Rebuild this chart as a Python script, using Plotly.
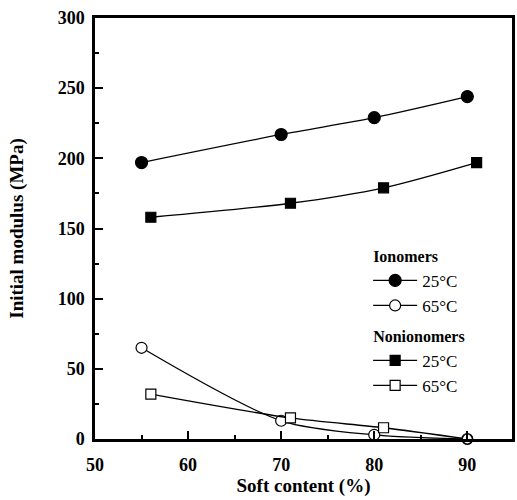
import plotly.graph_objects as go

# Data
ion25_x = [55, 70, 80, 90]
ion25_y = [197, 217, 229, 244]
ion65_x = [55, 70, 80, 90]
ion65_y = [65, 13, 3, 0]
non25_x = [56, 71, 81, 91]
non25_y = [158, 168, 179, 197]
non65_x = [56, 71, 81, 90]
non65_y = [32, 15, 8, 0]
non65_symbols = ["square", "square", "square", "circle"]

x_ticks = [50, 60, 70, 80, 90]
y_ticks = [0, 50, 100, 150, 200, 250, 300]

FONT = "Liberation Serif"

fig = go.Figure()

def add(x, y, name, group, gtitle, symbol, fill, size):
    fig.add_trace(go.Scatter(
        x=x, y=y, mode="lines+markers", name=name,
        legendgroup=group,
        legendgrouptitle=dict(text="<b>" + gtitle + "</b>", font=dict(family=FONT, size=16, color="black")),
        line=dict(color="black", width=1.3, shape="spline", smoothing=0.8),
        marker=dict(symbol=symbol, size=size, color=fill,
                    line=dict(color="black", width=1.2)),
        cliponaxis=False,
    ))

add(ion25_x, ion25_y, "25°C", "ion", "Ionomers", "circle", "black", 12)
add(ion65_x, ion65_y, "65°C", "ion", "Ionomers", "circle", "white", 11)
add(non25_x, non25_y, "25°C", "non", "Nonionomers", "square", "black", 10)
add(non65_x, non65_y, "65°C", "non", "Nonionomers", non65_symbols, "white", 10)

tickfont = dict(family=FONT, size=18, color="black", weight=700)

fig.update_layout(
    width=517, height=500,
    margin=dict(l=95, r=2, t=18, b=61),
    paper_bgcolor="white", plot_bgcolor="white",
    font=dict(family=FONT, color="black"),
    showlegend=True,
    legend=dict(x=0.655, y=0.475, xanchor="left", yanchor="top",
                bgcolor="rgba(0,0,0,0)", borderwidth=0,
                font=dict(family=FONT, size=17, color="black"),
                tracegroupgap=6, itemwidth=44),
    xaxis=dict(range=[50, 94.8], tickmode="array", tickvals=x_ticks,
               ticktext=[str(v) for v in x_ticks],
               ticks="inside", ticklen=8, tickwidth=2, tickcolor="black",
               ticklabelstandoff=8,
               minor=dict(tickvals=[55, 65, 75, 85], ticks="inside", ticklen=4, tickwidth=1.5, tickcolor="black"),
               showline=True, linewidth=2.5, linecolor="black", mirror=True,
               showgrid=False, zeroline=False,
               tickfont=tickfont,
               title=dict(text="<b>Soft content (%)</b>", font=dict(family=FONT, size=19, color="black"), standoff=4)),
    yaxis=dict(range=[0, 300], tickmode="array", tickvals=y_ticks,
               ticktext=[str(v) for v in y_ticks],
               ticks="inside", ticklen=8, tickwidth=2, tickcolor="black",
               ticklabelstandoff=4,
               minor=dict(tickvals=[25, 75, 125, 175, 225, 275], ticks="inside", ticklen=4, tickwidth=1.5, tickcolor="black"),
               showline=True, linewidth=2.5, linecolor="black", mirror=True,
               showgrid=False, zeroline=False,
               tickfont=tickfont,
               title=dict(text="<b>Initial modulus (MPa)</b>", font=dict(family=FONT, size=19, color="black"), standoff=30)),
)

fig.write_html("out.html")
